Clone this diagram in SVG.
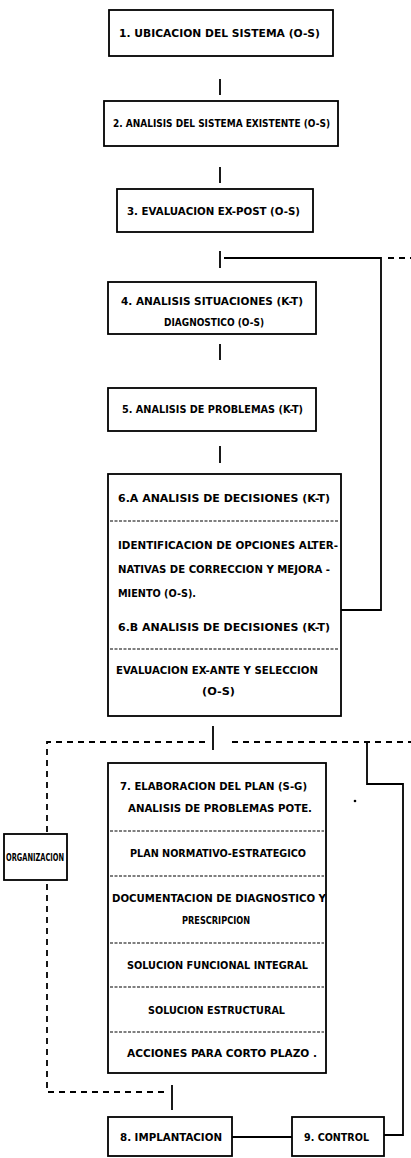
<svg xmlns="http://www.w3.org/2000/svg" width="411" height="1158" viewBox="0 0 411 1158">
<style>
.box{fill:#fff;stroke:#000;stroke-width:1.8}
.sep{stroke:#000;stroke-width:1.2;stroke-dasharray:3 1.5}
.t{font-family:"DejaVu Sans Condensed","DejaVu Sans","Liberation Sans",sans-serif;font-weight:bold;font-size:11px;fill:#000}
.ln{fill:none;stroke:#000;stroke-width:1.8}
.dl{fill:none;stroke:#000;stroke-width:1.8;stroke-dasharray:6 5}
</style>
<rect width="411" height="1158" fill="#fff"/>
<g id="connectors">
<line class="ln" x1="220" y1="79" x2="220" y2="95"/>
<line class="ln" x1="220" y1="167" x2="220" y2="183"/>
<line class="ln" x1="220" y1="251" x2="220" y2="268"/>
<polyline class="ln" points="224,258 381,258 381,610 341,610"/>
<line class="dl" x1="388" y1="258" x2="411" y2="258"/>
<line class="ln" x1="220" y1="344" x2="220" y2="360"/>
<line class="ln" x1="220" y1="446" x2="220" y2="463"/>
<line class="ln" x1="213" y1="726" x2="213" y2="750"/>
<polyline class="dl" points="205,742 47,742 47,833"/>
<line class="dl" x1="232" y1="742" x2="411" y2="742"/>
<polyline class="ln" points="367,742 367,784 403,784 403,1135 384,1135"/>
<polyline class="dl" points="47,884 47,1092 165,1092"/>
<line class="ln" x1="172" y1="1085" x2="172" y2="1110"/>
<line class="ln" x1="232" y1="1137" x2="292" y2="1137"/>
<circle cx="355" cy="801" r="1.3" fill="#000"/>
</g>
<g id="n1"><rect class="box" x="109" y="10" width="224" height="46"/>
<text class="t" x="119" y="37" textLength="201" lengthAdjust="spacingAndGlyphs">1. UBICACION DEL SISTEMA (O-S)</text></g>
<g id="n2"><rect class="box" x="104" y="101" width="234" height="45"/>
<text class="t" x="113" y="127" textLength="217" lengthAdjust="spacingAndGlyphs">2. ANALISIS DEL SISTEMA EXISTENTE (O-S)</text></g>
<g id="n3"><rect class="box" x="117" y="189" width="196" height="43"/>
<text class="t" x="127" y="215" textLength="173" lengthAdjust="spacingAndGlyphs">3. EVALUACION EX-POST (O-S)</text></g>
<g id="n4"><rect class="box" x="108" y="282" width="208" height="52"/>
<text class="t" x="121" y="305" textLength="182" lengthAdjust="spacingAndGlyphs">4. ANALISIS SITUACIONES (K-T)</text>
<text class="t" x="164" y="326" textLength="100" lengthAdjust="spacingAndGlyphs">DIAGNOSTICO (O-S)</text></g>
<g id="n5"><rect class="box" x="108" y="388" width="208" height="43"/>
<text class="t" x="122" y="413" textLength="181" lengthAdjust="spacingAndGlyphs">5. ANALISIS DE PROBLEMAS (K-T)</text></g>
<g id="n6"><rect class="box" x="108" y="474" width="233" height="242"/>
<text class="t" x="118" y="502" textLength="212" lengthAdjust="spacingAndGlyphs">6.A ANALISIS DE DECISIONES (K-T)</text>
<line class="sep" x1="110" y1="521" x2="339" y2="521"/>
<text class="t" x="118" y="549" textLength="220" lengthAdjust="spacingAndGlyphs">IDENTIFICACION DE OPCIONES ALTER-</text>
<text class="t" x="118" y="573" textLength="212" lengthAdjust="spacingAndGlyphs">NATIVAS DE CORRECCION Y MEJORA -</text>
<text class="t" x="118" y="597" textLength="78" lengthAdjust="spacingAndGlyphs">MIENTO (O-S).</text>
<text class="t" x="118" y="631" textLength="212" lengthAdjust="spacingAndGlyphs">6.B ANALISIS DE DECISIONES (K-T)</text>
<line class="sep" x1="110" y1="649" x2="339" y2="649"/>
<text class="t" x="116" y="674" textLength="202" lengthAdjust="spacingAndGlyphs">EVALUACION EX-ANTE Y SELECCION</text>
<text class="t" x="202" y="695" textLength="33" lengthAdjust="spacingAndGlyphs">(O-S)</text></g>
<g id="n7"><rect class="box" x="108" y="763" width="218" height="310"/>
<text class="t" x="120" y="790" textLength="187" lengthAdjust="spacingAndGlyphs">7. ELABORACION DEL PLAN (S-G)</text>
<text class="t" x="128" y="812" textLength="184" lengthAdjust="spacingAndGlyphs">ANALISIS DE PROBLEMAS POTE.</text>
<line class="sep" x1="110" y1="831" x2="324" y2="831"/>
<text class="t" x="130" y="857" textLength="176" lengthAdjust="spacingAndGlyphs">PLAN NORMATIVO-ESTRATEGICO</text>
<line class="sep" x1="110" y1="876" x2="324" y2="876"/>
<text class="t" x="112" y="902" textLength="214" lengthAdjust="spacingAndGlyphs">DOCUMENTACION DE DIAGNOSTICO Y</text>
<text class="t" x="182" y="924" textLength="68" lengthAdjust="spacingAndGlyphs">PRESCRIPCION</text>
<line class="sep" x1="110" y1="943" x2="324" y2="943"/>
<text class="t" x="127" y="969" textLength="181" lengthAdjust="spacingAndGlyphs">SOLUCION FUNCIONAL INTEGRAL</text>
<line class="sep" x1="110" y1="987" x2="324" y2="987"/>
<text class="t" x="148" y="1014" textLength="137" lengthAdjust="spacingAndGlyphs">SOLUCION ESTRUCTURAL</text>
<line class="sep" x1="110" y1="1032" x2="324" y2="1032"/>
<text class="t" x="127" y="1057" textLength="190" lengthAdjust="spacingAndGlyphs">ACCIONES PARA CORTO PLAZO .</text></g>
<g id="org"><rect class="box" x="4" y="834" width="63" height="46"/>
<text class="t" x="6" y="861" textLength="58" lengthAdjust="spacingAndGlyphs">ORGANIZACION</text></g>
<g id="n8"><rect class="box" x="108" y="1117" width="124" height="39"/>
<text class="t" x="120" y="1141" textLength="102" lengthAdjust="spacingAndGlyphs">8. IMPLANTACION</text></g>
<g id="n9"><rect class="box" x="292" y="1117" width="92" height="39"/>
<text class="t" x="304" y="1141" textLength="65" lengthAdjust="spacingAndGlyphs">9. CONTROL</text></g>
</svg>
